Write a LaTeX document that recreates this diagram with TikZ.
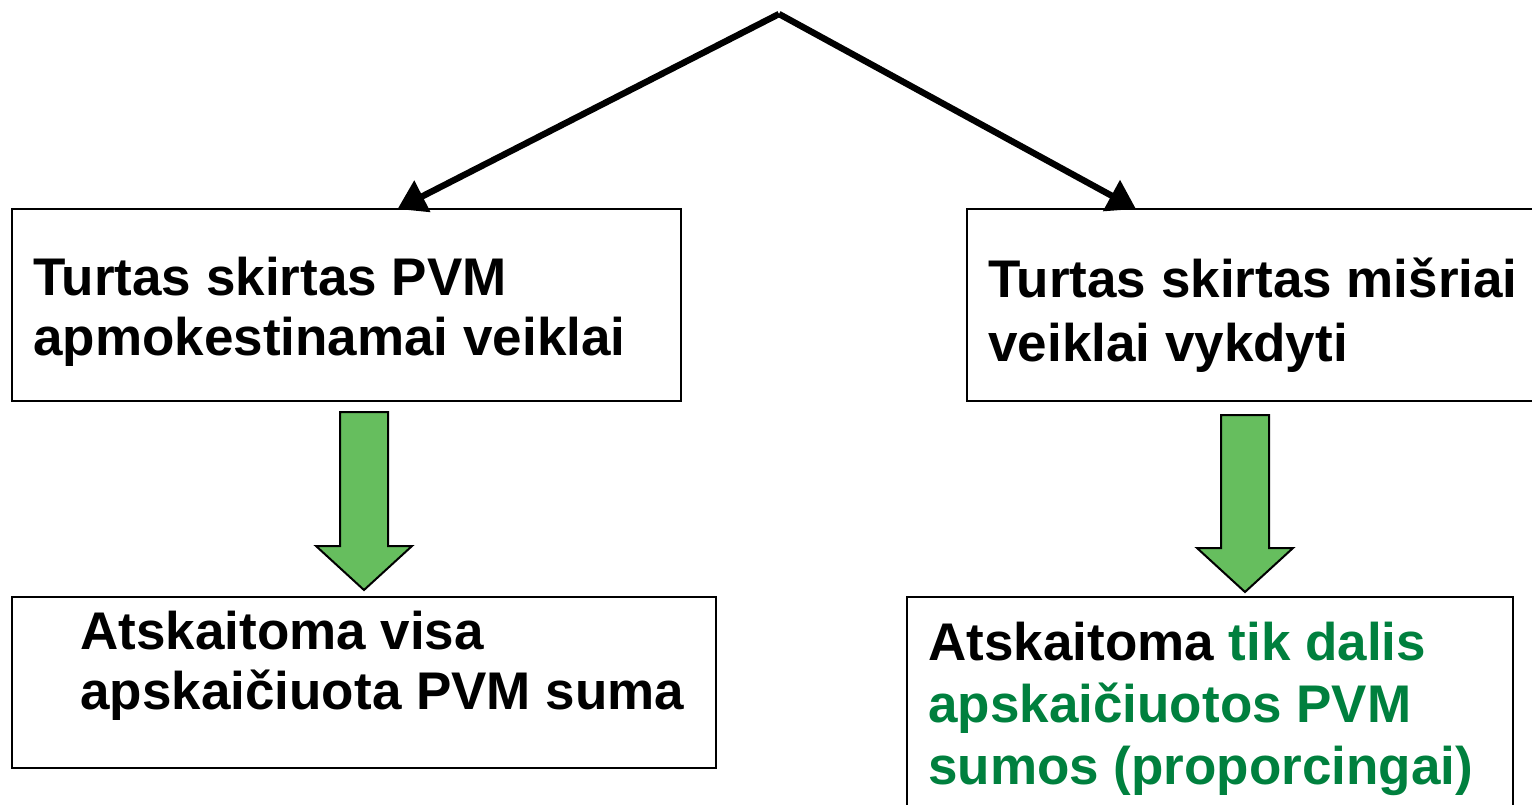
\documentclass[tikz,border=0pt]{standalone}
\usepackage{fontspec}
\setmainfont{Liberation Sans}
\usepackage{tikz}
\usetikzlibrary{arrows.meta,positioning,calc}
\definecolor{mydarkgreen}{RGB}{0,128,62}
\definecolor{myarrowgreen}{RGB}{102,190,94}
\tikzset{>={Triangle[length=14pt,width=17pt]}}

\begin{document}
\begin{tikzpicture}[x=0.5pt, y=-0.5pt, box/.style = {draw, line width=1pt, anchor=north west, inner sep=0pt, outer sep=0pt}, txt/.style = {anchor=north west, inner sep=0pt, align=left, font=\fontsize{26.5pt}{30pt}\selectfont\bfseries}, link/.style = {->, line width=3.2pt}, fatarrow/.style = {draw, line width=1pt, fill=myarrowgreen, line join=miter}]
                    \clip (0,0) rectangle (1532,804);
                    % boxes
                    \node[box, minimum width=334.5pt, minimum height=96pt] (boxA) at (12,209) {};
                    \node[box, minimum width=290pt, minimum height=96pt] (boxB) at (967,209) {};
                    \node[box, minimum width=352pt, minimum height=85.5pt] (boxC) at (12,597) {};
                    \node[box, minimum width=303pt, minimum height=115pt] (boxD) at (907,597) {};
                    % texts
                    \node[txt] (txtA) at (33,257) {Turtas skirtas PVM\\apmokestinamai veiklai};
                    \node[txt] (txtB) at (988,258) {Turtas skirtas mišriai\\[2pt]veiklai vykdyti};
                    \node[txt] (txtC) at (80,611) {Atskaitoma visa\\apskaičiuota PVM suma};
                    \node[txt] (txtD) at (928,622) {Atskaitoma \textcolor{mydarkgreen}{tik dalis}\\[1pt]\textcolor{mydarkgreen}{apskaičiuotos PVM}\\[1pt]\textcolor{mydarkgreen}{sumos (proporcingai)}};
                    % top connectors
                    \coordinate (top) at (779,14);
                    \draw[link] (top) -- ([xshift=25.5pt]boxA.north);
                    \draw[link] (top) -- ([xshift=-60.5pt]boxB.north);
                    % green arrows
                    \foreach \x/\y/\b in {364/412/546, 1245/415/548}
                    {%
                        \draw[fatarrow] (\x-24,\y) -- (\x+24,\y) -- (\x+24,\b) -- (\x+48,\b) -- (\x,\b+44) -- (\x-48,\b) -- (\x-24,\b) -- cycle;
                    };
            \end{tikzpicture}
\end{document}
